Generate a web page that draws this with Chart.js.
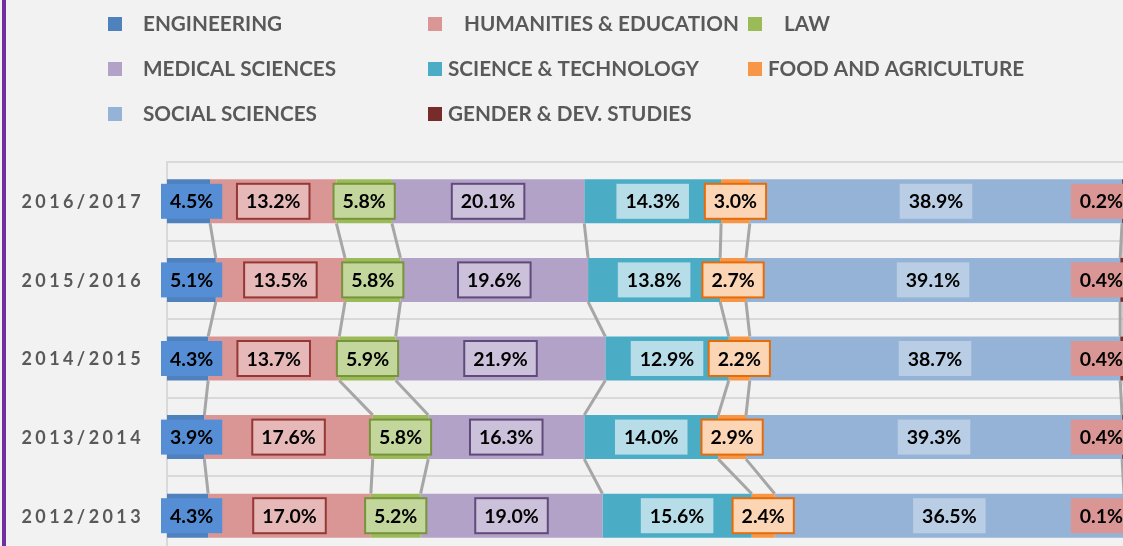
<!DOCTYPE html>
<html>
<head>
<meta charset="utf-8">
<title>Students by field of study</title>
<script src="https://cdn.jsdelivr.net/npm/chart.js@4.4.1/dist/chart.umd.min.js"></script>
<style>
  html, body { margin: 0; padding: 0; background: #f2f2f2; overflow: hidden; }
  #wrap { position: relative; width: 1123px; height: 546px; overflow: hidden; }
  #canvas { position: absolute; left: 0; top: 0; }
  #edge { position: absolute; left: 2px; top: 0; width: 4px; height: 546px; background: #7030a0; }
</style>
</head>
<body>
<div id="wrap">
  <canvas id="canvas" width="1180" height="580"></canvas>
  <div id="edge"></div>
</div>
<script>
// share of students per field, in percent
var years = ['2012/2013', '2013/2014', '2014/2015', '2015/2016', '2016/2017'];
var engineering = [4.3, 3.9, 4.3, 5.1, 4.5];
var humanities = [17.0, 17.6, 13.7, 13.5, 13.2];
var law = [5.2, 5.8, 5.9, 5.8, 5.8];
var medical = [19.0, 16.3, 21.9, 19.6, 20.1];
var science = [15.6, 14.0, 12.9, 13.8, 14.3];
var food = [2.4, 2.9, 2.2, 2.7, 3.0];
var social = [36.5, 39.3, 38.7, 39.1, 38.9];
var gender = [0.1, 0.4, 0.4, 0.4, 0.2];

var FONT = 'Lato, "Open Sans", sans-serif';

function series(label, data, color, fill, border) {
    return {
        label: label,
        data: data,
        backgroundColor: color,
        borderWidth: 0,
        labelFill: fill,
        labelBorder: border,
        barPercentage: 0.56,
        categoryPercentage: 1.0
    };
}

// Excel style "series lines" between the stacked bars
var seriesLines = {
    id: 'seriesLines',
    beforeDatasetsDraw: function (chart) {
        var ctx = chart.ctx;
        var n = chart.data.datasets.length;
        ctx.save();
        ctx.strokeStyle = '#a6a6a6';
        ctx.lineWidth = 3;
        for (var d = 0; d < n; d++) {
            var bars = chart.getDatasetMeta(d).data;
            for (var i = 0; i < bars.length - 1; i++) {
                var a = bars[i], b = bars[i + 1];
                var upper = a.y < b.y ? a : b;
                var lower = a.y < b.y ? b : a;
                ctx.beginPath();
                ctx.moveTo(upper.x, upper.y + upper.height / 2);
                ctx.lineTo(lower.x, lower.y - lower.height / 2);
                ctx.stroke();
            }
        }
        ctx.restore();
    }
};

// boxed value labels in the middle of every segment
var boxLabels = {
    id: 'boxLabels',
    afterDatasetsDraw: function (chart) {
        var ctx = chart.ctx;
        var area = chart.chartArea;
        ctx.save();
        ctx.font = 'bold 19.5px ' + FONT;
        ctx.textAlign = 'center';
        ctx.textBaseline = 'alphabetic';
        chart.data.datasets.forEach(function (ds, d) {
            chart.getDatasetMeta(d).data.forEach(function (bar, i) {
                var text = ds.data[i].toFixed(1) + '%';
                var w = ctx.measureText(text).width + 18;
                var h = 35;
                var cx = (bar.x + bar.base) / 2;
                var left = cx - w / 2;
                if (left < area.left - 6) left = area.left - 6;
                if (left + w > area.right + 8) left = area.right + 8 - w;
                var top = bar.y - h / 2;
                ctx.fillStyle = ds.labelFill;
                ctx.fillRect(left, top, w, h);
                if (ds.labelBorder) {
                    ctx.strokeStyle = ds.labelBorder;
                    ctx.lineWidth = 2;
                    ctx.strokeRect(left, top, w, h);
                }
                ctx.fillStyle = '#000000';
                ctx.fillText(text, left + w / 2, bar.y + 7);
            });
        });
        ctx.restore();
    }
};

// year labels are drawn late (ticks.z = 1): nudge them down and space the letters
var spacedTicks = {
    id: 'spacedTicks',
    afterDatasetsDraw: function (chart) {
        var ctx = chart.ctx;
        ctx.save();
        ctx.translate(0, 1);
        ctx.letterSpacing = '3.4px';
    },
    afterDraw: function (chart) {
        chart.ctx.restore();
    }
};

// three-column legend above the plot
var gridLegend = {
    id: 'gridLegend',
    afterDraw: function (chart) {
        var ctx = chart.ctx;
        var cols = [108, 428, 748];
        var rows = [31, 76, 121];
        var indent = [35, 36, 36, 35, 20, 20, 35, 20];
        ctx.save();
        ctx.font = 'bold 20.7px ' + FONT;
        ctx.textAlign = 'left';
        ctx.textBaseline = 'alphabetic';
        chart.data.datasets.forEach(function (ds, k) {
            var x = cols[k % 3];
            var y = rows[Math.floor(k / 3)];
            ctx.fillStyle = ds.backgroundColor;
            ctx.fillRect(x, y - 14, 14, 14);
            ctx.fillStyle = '#595959';
            ctx.fillText(ds.label, x + indent[k], y);
        });
        ctx.restore();
    }
};

new Chart(document.getElementById('canvas').getContext('2d'), {
    type: 'bar',
    data: {
        labels: years,
        datasets: [
            series('ENGINEERING', engineering, '#4f81bd', '#558ed5', null),
            series('HUMANITIES & EDUCATION', humanities, '#d99694', '#e6b9b8', '#953735'),
            series('LAW', law, '#9bbb59', '#c3d69b', '#77933c'),
            series('MEDICAL SCIENCES', medical, '#b3a2c7', '#ccc1da', '#604a7b'),
            series('SCIENCE & TECHNOLOGY', science, '#4bacc6', '#b7dee8', null),
            series('FOOD AND AGRICULTURE', food, '#f79646', '#fcd5b5', '#e46c0a'),
            series('SOCIAL SCIENCES', social, '#95b3d7', '#b9cde5', null),
            series('GENDER & DEV. STUDIES', gender, '#772c2a', '#da9694', null)
        ]
    },
    options: {
        indexAxis: 'y',
        responsive: false,
        animation: false,
        devicePixelRatio: 1,
        layout: {
            padding: { top: 162, right: 56, bottom: 25, left: 0 }
        },
        plugins: {
            legend: { display: false },
            tooltip: { enabled: false }
        },
        scales: {
            x: {
                stacked: true,
                min: 0,
                max: 100,
                display: false
            },
            y: {
                stacked: true,
                reverse: true,
                afterFit: function (scale) {
                    scale.width = 167;
                    // the tick padding must not eat into the plot height
                    scale.paddingTop = 0;
                    scale.paddingBottom = 0;
                },
                border: { display: true, color: '#d9d9d9', width: 2 },
                grid: { color: '#d9d9d9', lineWidth: 2, drawTicks: false },
                ticks: {
                    z: 1,
                    color: '#595959',
                    padding: 23,
                    font: { family: FONT, weight: 'bold', size: 18 }
                }
            }
        }
    },
    plugins: [seriesLines, boxLabels, spacedTicks, gridLegend]
});
</script>
</body>
</html>
